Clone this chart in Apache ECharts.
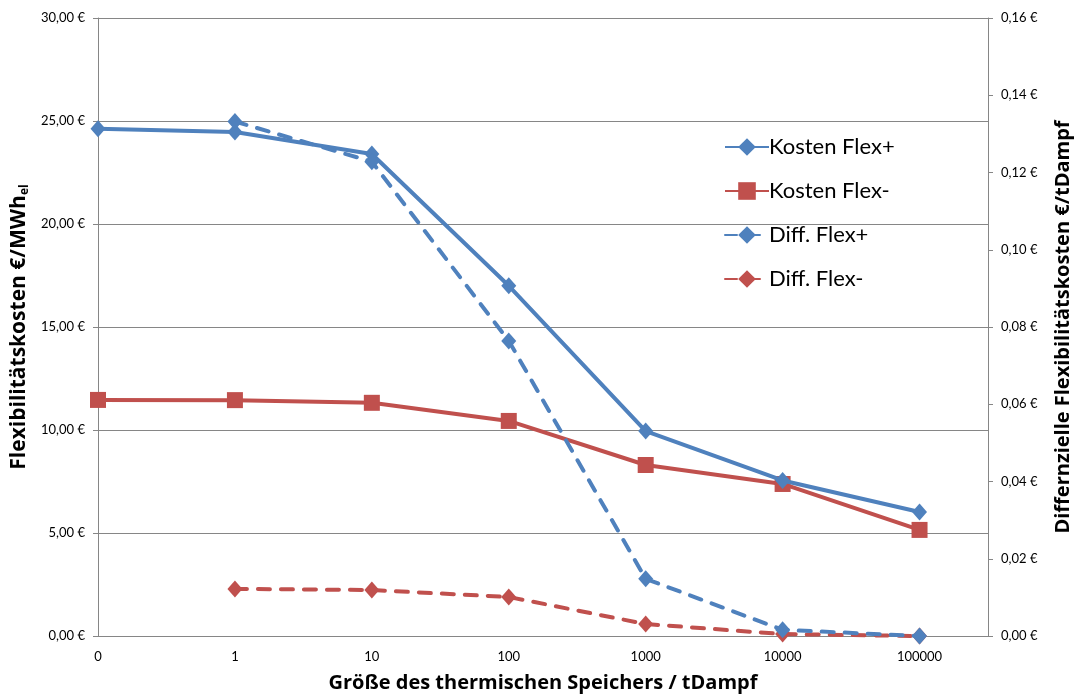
<!DOCTYPE html>
<html><head><meta charset="utf-8">
<script src="https://cdn.jsdelivr.net/npm/echarts@6/dist/echarts.min.js"></script>
<style>html,body{margin:0;padding:0;background:#fff}#c{width:1080px;height:695px}</style>
</head><body><div id="c"></div>
<script>
const categories = ['0','1','10','100','1000','10000','100000'];
const kostenFlexPlus = [24.62, 24.47, 23.40, 17.00, 9.95, 7.55, 6.02];
const kostenFlexMinus = [11.46, 11.45, 11.32, 10.44, 8.30, 7.38, 5.15];
const diffFlexPlus = [null, 0.1332, 0.1228, 0.0764, 0.0148, 0.0016, 0.0000];
const diffFlexMinus = [null, 0.0122, 0.0119, 0.0101, 0.0031, 0.0005, 0.0000];
const leftTicks = {min: 0, max: 30, interval: 5};
const rightTicks = {min: 0, max: 0.16, interval: 0.02};

const FONT = 'Lato';
const BOLD = 'Open Sans';
const BLUE = '#4F81BD', RED = '#C0504D';
const pairs = arr => arr.map((v, i) => [i, v]);
const eur = v => v.toFixed(2).replace('.', ',') + ' €';
const DASH = [12, 11];

const chart = echarts.init(document.getElementById('c'));
chart.setOption({
  animation: false,
  textStyle: {fontFamily: FONT},
  grid: {left: 98, right: 92, top: 18, bottom: 59, containLabel: false, outerBoundsMode: 'none'},
  legend: {
    orient: 'vertical', left: 719, top: 131, itemGap: 22,
    itemWidth: 44, itemHeight: 22,
    textStyle: {fontFamily: FONT, fontSize: 22, color: '#000', padding: [0,0,0,-5]},
    data: ['Kosten Flex+', 'Kosten Flex-', 'Diff. Flex+', 'Diff. Flex-']
  },
  xAxis: {
    type: 'value', min: 0, max: 6.5, interval: 1,
    name: 'Größe des thermischen Speichers / tDampf',
    nameLocation: 'middle', nameGap: 37,
    nameTextStyle: {fontFamily: BOLD, fontSize: 20, fontWeight: 'bold', color: '#000'},
    axisLine: {show: true, lineStyle: {color: '#868686', width: 1}},
    axisTick: {show: false},
    splitLine: {show: false},
    axisLabel: {
      color: '#000', fontSize: 13, fontFamily: FONT, margin: 14,
      showMaxLabel: false,
      formatter: v => (Number.isInteger(v) && categories[v] !== undefined) ? categories[v] : ''
    }
  },
  yAxis: [{
    type: 'value', min: leftTicks.min, max: leftTicks.max, interval: leftTicks.interval,
    position: 'left',
    name: '{t|Flexibilitätskosten €/MWh}{s|el}',
    nameLocation: 'middle', nameGap: 66, nameRotate: 90,
    nameTextStyle: {
      rich: {
        t: {fontFamily: BOLD, fontSize: 21, fontWeight: 'bold', color: '#000'},
        s: {fontFamily: BOLD, fontSize: 12, fontWeight: 'bold', color: '#000', verticalAlign: 'bottom', padding: [10,0,0,0]}
      }
    },
    axisLine: {show: true, lineStyle: {color: '#868686', width: 1}},
    axisTick: {show: true, length: 5, lineStyle: {color: '#868686'}},
    splitLine: {show: true, lineStyle: {color: '#868686', width: 1}},
    axisLabel: {color: '#000', fontSize: 13, fontFamily: FONT, margin: 13, formatter: eur}
  }, {
    type: 'value', min: rightTicks.min, max: rightTicks.max, interval: rightTicks.interval,
    position: 'right',
    name: 'Differnzielle Flexibilitätskosten €/tDampf',
    nameLocation: 'middle', nameGap: 65, nameRotate: 90,
    nameTextStyle: {fontFamily: BOLD, fontSize: 20, fontWeight: 'bold', color: '#000'},
    axisLine: {show: true, lineStyle: {color: '#868686', width: 1}},
    axisTick: {show: true, length: 5, lineStyle: {color: '#868686'}},
    splitLine: {show: false},
    axisLabel: {color: '#000', fontSize: 13, fontFamily: FONT, margin: 13, formatter: eur}
  }],
  series: [{
    name: 'Kosten Flex+', type: 'line', yAxisIndex: 0, data: pairs(kostenFlexPlus),
    symbol: 'diamond', symbolSize: [15, 17], color: BLUE,
    lineStyle: {color: BLUE, width: 4}, itemStyle: {color: BLUE}, z: 4
  }, {
    name: 'Kosten Flex-', type: 'line', yAxisIndex: 0, data: pairs(kostenFlexMinus),
    symbol: 'rect', symbolSize: 16, color: RED,
    lineStyle: {color: RED, width: 4}, itemStyle: {color: RED}, z: 3
  }, {
    name: 'Diff. Flex+', type: 'line', yAxisIndex: 1, data: pairs(diffFlexPlus),
    symbol: 'diamond', symbolSize: [15, 17], color: BLUE,
    lineStyle: {color: BLUE, width: 4, type: DASH, cap: 'round'}, itemStyle: {color: BLUE}, z: 5
  }, {
    name: 'Diff. Flex-', type: 'line', yAxisIndex: 1, data: pairs(diffFlexMinus),
    symbol: 'diamond', symbolSize: [15, 17], color: RED,
    lineStyle: {color: RED, width: 4, type: DASH, cap: 'round'}, itemStyle: {color: RED}, z: 2
  }]
});
</script></body></html>
